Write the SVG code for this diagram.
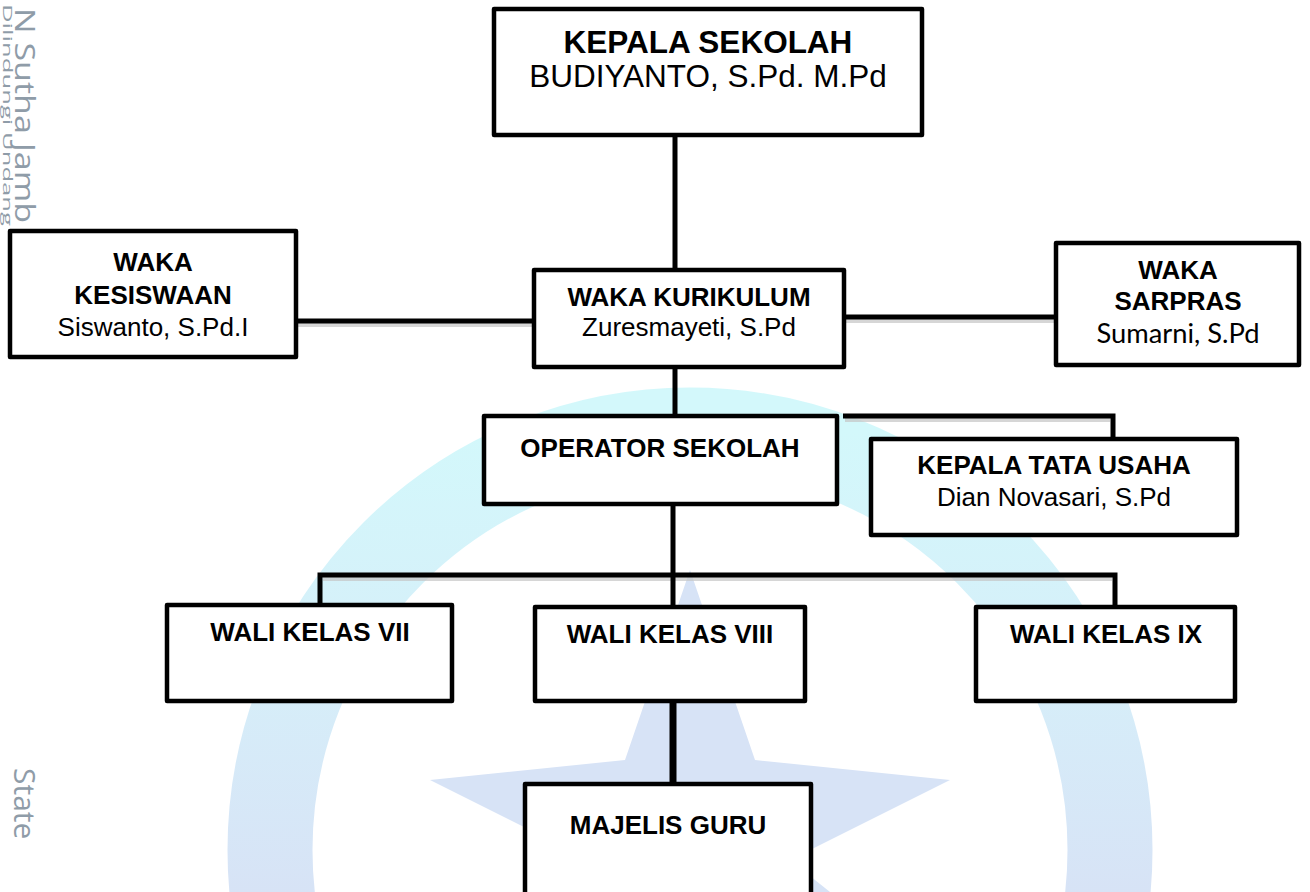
<svg xmlns="http://www.w3.org/2000/svg" width="1310" height="892" viewBox="0 0 1310 892">
<defs>
<style>
.box{fill:#fff;stroke:#000;stroke-width:4.5;stroke-linejoin:round}
.ln{stroke:#000;stroke-width:5;fill:none;stroke-linecap:butt}
.sh{stroke:#c4c4c4;stroke-width:4;fill:none;opacity:0.7}
.b{font-family:"Liberation Sans",Arial,sans-serif;font-weight:bold;fill:#000;text-anchor:middle}
.r{font-family:"Liberation Sans",Arial,sans-serif;fill:#000;text-anchor:middle}
.c{font-family:Lato,"Open Sans",sans-serif;fill:#000;text-anchor:middle}
.wm{font-family:"Open Sans","Liberation Sans",sans-serif;fill:#8f9ca8}
</style>
<linearGradient id="ringg" x1="0" y1="0" x2="0" y2="1">
<stop offset="0" stop-color="#d3f8fb"/>
<stop offset="0.3" stop-color="#d6eef9"/>
<stop offset="0.55" stop-color="#d7e3f6"/>
<stop offset="1" stop-color="#d7e3f6"/>
</linearGradient>
</defs>
<rect width="1310" height="892" fill="#fff"/>
<g id="watermark">
<circle cx="690" cy="850" r="420" fill="none" stroke="url(#ringg)" stroke-width="85"/>
<polygon points="690,570 755,760 950,780 790,860 830,892 550,892 590,860 430,780 625,760" fill="#d7e3f6"/>
<text class="wm" font-size="28" transform="translate(15,8) rotate(90)" textLength="215" lengthAdjust="spacingAndGlyphs">N Sutha Jamb</text>
<text class="wm" font-size="12" transform="translate(3,4) rotate(90)" textLength="222" lengthAdjust="spacingAndGlyphs">Dilindungi Undang</text>
<text class="wm" font-size="30" transform="translate(14,768) rotate(90)">State</text>
</g>
<g id="connectors">
<line class="sh" x1="298" y1="325" x2="532" y2="325"/>
<line class="sh" x1="846" y1="321" x2="1056" y2="321"/>
<polyline class="sh" points="845,420 1110,420"/>
<polyline class="sh" points="323,579 1112,579"/>
<line class="ln" x1="675" y1="136" x2="675" y2="270"/>
<line class="ln" x1="296" y1="321" x2="534" y2="321"/>
<line class="ln" x1="844" y1="317" x2="1063" y2="317"/>
<line class="ln" x1="675" y1="367" x2="675" y2="416"/>
<polyline class="ln" points="843,416 1113,416 1113,439"/>
<line class="ln" x1="673" y1="504" x2="673" y2="607"/>
<polyline class="ln" points="320,605 320,575 1115,575 1115,607"/>
<line class="ln" x1="673" y1="701" x2="673" y2="784" style="stroke-width:7"/>
</g>
<g id="kepala-sekolah">
<rect class="box" x="494" y="9" width="428" height="126"/>
<text class="b" x="708" y="53" style="font-size:31.5px">KEPALA SEKOLAH</text>
<text class="r" x="708" y="87" style="font-size:31.5px">BUDIYANTO, S.Pd. M.Pd</text>
</g>
<g id="waka-kesiswaan">
<rect class="box" x="10" y="231" width="286" height="126"/>
<text class="b" x="153" y="271" style="font-size:26px">WAKA</text>
<text class="b" x="153" y="304" style="font-size:26px">KESISWAAN</text>
<text class="r" x="153" y="336" style="font-size:26px">Siswanto, S.Pd.I</text>
</g>
<g id="waka-kurikulum">
<rect class="box" x="534" y="270" width="310" height="97"/>
<text class="b" x="689" y="306" style="font-size:26px">WAKA KURIKULUM</text>
<text class="r" x="689" y="336" style="font-size:26px">Zuresmayeti, S.Pd</text>
</g>
<g id="waka-sarpras">
<rect class="box" x="1056" y="243" width="243" height="122"/>
<text class="b" x="1178" y="279" style="font-size:26px">WAKA</text>
<text class="b" x="1178" y="310" style="font-size:26px">SARPRAS</text>
<text class="c" x="1178" y="343" style="font-size:27px" textLength="163" lengthAdjust="spacingAndGlyphs">Sumarni, S.Pd</text>
</g>
<g id="operator-sekolah">
<rect class="box" x="484" y="416" width="353" height="88"/>
<text class="b" x="660" y="457" style="font-size:26px">OPERATOR SEKOLAH</text>
</g>
<g id="kepala-tata-usaha">
<rect class="box" x="871" y="439" width="366" height="96"/>
<text class="b" x="1054" y="474" style="font-size:26px">KEPALA TATA USAHA</text>
<text class="r" x="1054" y="506" style="font-size:26px">Dian Novasari, S.Pd</text>
</g>
<g id="wali-kelas-vii">
<rect class="box" x="167" y="605" width="285" height="96"/>
<text class="b" x="310" y="641" style="font-size:26px">WALI KELAS VII</text>
</g>
<g id="wali-kelas-viii">
<rect class="box" x="535" y="607" width="270" height="94"/>
<text class="b" x="670" y="643" style="font-size:26px">WALI KELAS VIII</text>
</g>
<g id="wali-kelas-ix">
<rect class="box" x="976" y="607" width="259" height="94"/>
<text class="b" x="1106" y="643" style="font-size:26px">WALI KELAS IX</text>
</g>
<g id="majelis-guru">
<rect class="box" x="525" y="784" width="286" height="120"/>
<text class="b" x="668" y="834" style="font-size:26px">MAJELIS GURU</text>
</g>
</svg>
